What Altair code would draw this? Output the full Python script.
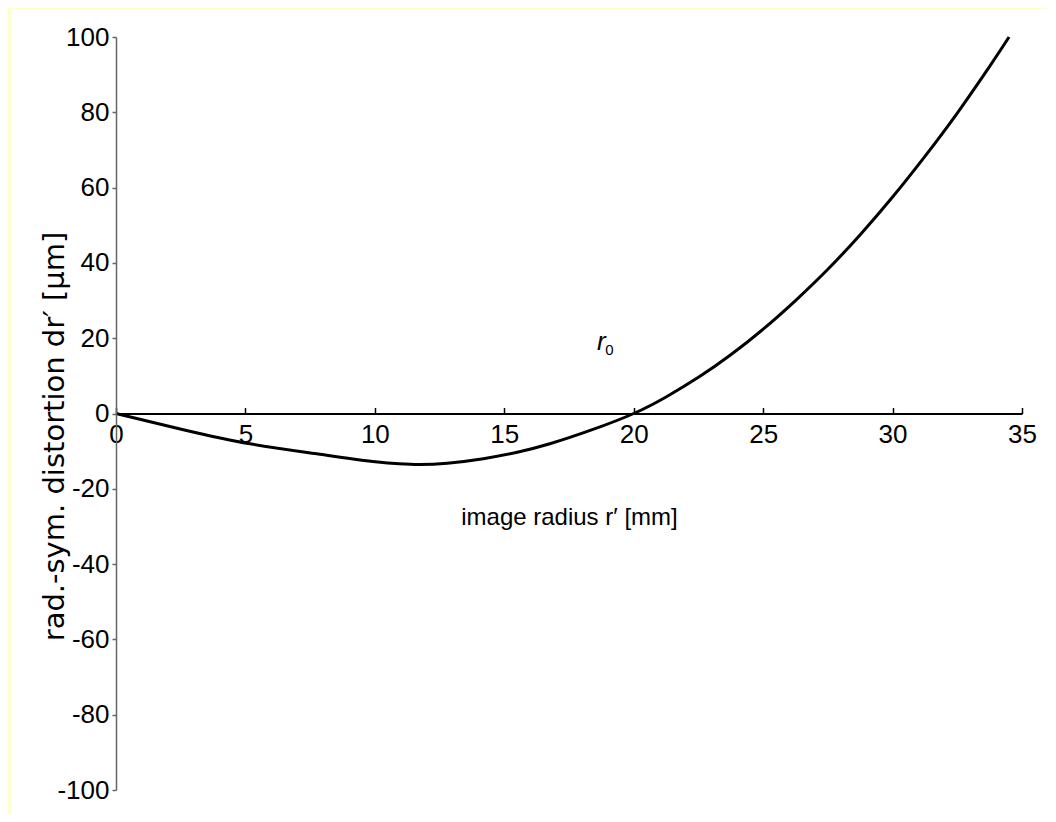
import altair as alt
import pandas as pd

# image radius r' [mm] and radial-symmetric distortion dr' [µm]
radius = [0, 2.6, 5.18, 7.75, 9.5, 11.36, 12.8, 14.19, 15.5, 16.76, 18.4, 20, 21.25, 22.5,
          23.75, 25, 26.25, 27.5, 28.75, 30, 31.25, 32.5, 33.75, 34.5]
distortion = [0, -4.3, -8.05, -10.7, -12.4, -13.5, -13.2, -12.0, -10.3, -8.05, -4.3, 0, 4.4, 9.6,
              15.6, 22.4, 30.0, 38.3, 47.5, 57.5, 68.3, 79.8, 92.2, 100.0]

x_ticks = [0, 5, 10, 15, 20, 25, 30, 35]
y_ticks = [-100, -80, -60, -40, -20, 0, 20, 40, 60, 80, 100]

label_r0 = pd.DataFrame({"x": [18.75], "y": [19.0], "t": ["r"]})
label_sub = pd.DataFrame({"x": [18.75], "y": [19.0], "t": ["0"]})

df = pd.DataFrame({"r": radius, "d": distortion})

W, H = 906, 753
FONT = "Liberation Sans, Arial, sans-serif"

xscale = alt.Scale(domain=[0, 35], nice=False, zero=False)
yscale = alt.Scale(domain=[-100, 100], nice=False)

bg = alt.Chart(pd.DataFrame({"a": [0]})).mark_rect(color="white").encode(
    x=alt.value(-105), x2=alt.value(W + 40), y=alt.value(-28), y2=alt.value(H + 40)
)

line = alt.Chart(df).mark_line(color="black", strokeWidth=3, interpolate="natural").encode(
    x=alt.X("r:Q", scale=xscale,
            axis=alt.Axis(orient="bottom", offset=-H / 2, values=x_ticks, ticks=False, tickSize=0,
                          domainColor="black", domainWidth=2, labelFont=FONT, labelFontSize=26,
                          labelColor="black", labelPadding=8, labelBaseline="top", labelFlush=False,
                          labelExpr="'' + datum.value",
                          title="image radius r′ [mm]", titleFont=FONT, titleFontSize=24,
                          titleFontWeight="normal", titleColor="black", titleY=111,
                          titleBaseline="alphabetic", grid=False, zindex=1)),
    y=alt.Y("d:Q", scale=yscale,
            axis=alt.Axis(values=y_ticks, domainColor="#666666", domainWidth=1.5,
                          tickColor="#666666", tickSize=4, tickWidth=1.5,
                          labelFont=FONT, labelFontSize=26, labelColor="black", labelPadding=3,
                          labelExpr="'' + datum.value",
                          title="rad.-sym. distortion dr′ [µm]", titleFont="DejaVu Sans",
                          titleFontSize=29, titleFontWeight="normal", titleColor="black",
                          titleAngle=-90, titleX=-53, titleY=399, titleAlign="center",
                          titleBaseline="alphabetic", grid=False, zindex=1)),
)

r0 = alt.Chart(label_r0).mark_text(font=FONT, fontSize=26, fontStyle="italic", color="black",
                                   align="center", baseline="middle").encode(
    x=alt.X("x:Q", scale=xscale,
            axis=alt.Axis(orient="top", offset=-H / 2, values=x_ticks, labels=False, domain=False,
                          ticks=True, tickSize=6, tickColor="black", tickWidth=1.5, title=None,
                          grid=False, zindex=1)),
    y=alt.Y("y:Q", scale=yscale),
    text="t:N",
)
sub = alt.Chart(label_sub).mark_text(font=FONT, fontSize=15, color="black",
                                     align="left", baseline="middle", dx=4, dy=8).encode(
    x=alt.X("x:Q", scale=xscale, axis=None), y=alt.Y("y:Q", scale=yscale), text="t:N"
)

chart = alt.layer(bg, line, r0, sub).resolve_axis(x="independent").properties(
    width=W, height=H, background="#FFFFCC",
    padding={"left": 108, "top": 29, "right": 26, "bottom": 24},
    autosize=alt.AutoSizeParams(type="none"),
).configure_view(stroke=None)

chart.save("out.html", embed_options={"renderer": "svg", "actions": False})
